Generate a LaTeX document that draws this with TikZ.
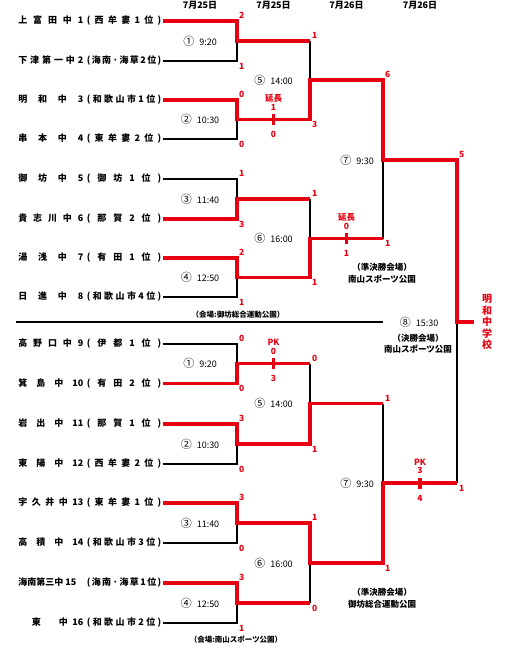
\documentclass[tikz,border=0pt]{standalone}
\usepackage{fontspec}
\setmainfont{Noto Sans CJK JP}
\usetikzlibrary{positioning,calc}
\definecolor{winred}{RGB}{230,0,18}
\def\spreadtoks#1{#1\spreadnext}
\def\spreadnext#1{\ifx\end#1\else\hfill#1\expandafter\spreadnext\fi}
\newcommand\spreadto[2]{\makebox[#1][s]{\spreadtoks#2\end}}
\newcommand\team[2]{\spreadto{65pt}{#1}\hspace{3.5pt}\spreadto{74.5pt}{#2}}
\newcommand\kickoff[2]{{\fontsize{11}{10}\selectfont#1}\hspace{5pt}#2}

\begin{document}
\begin{tikzpicture}[x=1pt,y=-1pt,
team/.style={anchor=east,inner xsep=1.5pt,inner ysep=0pt,font=\fontsize{9}{10}\selectfont\bfseries},
lose/.style={line width=1.3pt},
win/.style={line width=3.2pt,draw=winred},
score/.style={inner sep=0pt,text=winred,font=\fontsize{8.5}{9}\selectfont\bfseries},
topscore/.style={score,anchor=south west,xshift=2pt,yshift=2pt},
botscore/.style={score,anchor=north west,xshift=2pt,yshift=-2pt},
game/.style={inner sep=0pt,font=\fontsize{9}{10}\selectfont},
date/.style={inner sep=0pt,font=\fontsize{9}{10}\selectfont\bfseries},
venue/.style={align=center,inner sep=0pt,font=\fontsize{8.5}{11.5}\selectfont\bfseries},
hall/.style={inner sep=0pt,font=\fontsize{7.5}{9}\selectfont\bfseries},
champion/.style={align=center,inner sep=0pt,text=winred,font=\fontsize{10}{11.5}\selectfont\bfseries}]

\useasboundingbox (0,0) rectangle (522,650);

\node[date] (d1) at (200,5) {7月25日};
\node[date] (d2) at (273.5,5) {7月25日};
\node[date] (d3) at (346.5,5) {7月26日};
\node[date] (d4) at (420,5) {7月26日};

\node[team] (t1) at (163,21) {\team{上富田中1}{(西牟婁1位)}};
\node[team] (t2) at (163,61) {\team{下津第一中2}{(海南·海草2位)}};
\node[team] (t3) at (163,100) {\team{明和中3}{(和歌山市1位)}};
\node[team] (t4) at (163,139) {\team{串本中4}{(東牟婁2位)}};
\node[team] (t5) at (163,179) {\team{御坊中5}{(御坊1位)}};
\node[team] (t6) at (163,219) {\team{貴志川中6}{(那賀2位)}};
\node[team] (t7) at (163,258) {\team{湯浅中7}{(有田1位)}};
\node[team] (t8) at (163,297) {\team{日進中8}{(和歌山市4位)}};
\node[team] (t9) at (163,344) {\team{高野口中9}{(伊都1位)}};
\node[team] (t10) at (163,383.5) {\team{箕島中{10}}{(有田2位)}};
\node[team] (t11) at (163,424) {\team{岩出中{11}}{(那賀1位)}};
\node[team] (t12) at (163,464) {\team{東陽中{12}}{(西牟婁2位)}};
\node[team] (t13) at (163,503) {\team{宇久井中{13}}{(東牟婁1位)}};
\node[team] (t14) at (163,543) {\team{高積中{14}}{(和歌山市3位)}};
\node[team] (t15) at (163,583) {\team{{海南第三中}{15\hspace{7pt}}}{(海南·海草1位)}};
\node[team] (t16) at (163,623) {\team{{\phantom{東}}東{\phantom{東}}中{16}}{(和歌山市2位)}};

\coordinate (j1) at (237,41);
\coordinate (j2) at (237,119.5);
\coordinate (j3) at (237,199);
\coordinate (j4) at (237,277.5);
\coordinate (r1) at (310,41);
\coordinate (r2) at (310,119.5);
\coordinate (r3) at (310,199);
\coordinate (r4) at (310,277.5);
\coordinate (j5) at (310,80);
\coordinate (j6) at (310,238.5);
\coordinate (s5) at (383,80);
\coordinate (s6) at (383,238.5);
\coordinate (j7) at (383,160);
\coordinate (f1) at (457,160);

\coordinate (jb1) at (237,363.5);
\coordinate (jb2) at (237,444);
\coordinate (jb3) at (237,523);
\coordinate (jb4) at (237,603);
\coordinate (rb1) at (310,363.5);
\coordinate (rb2) at (310,444);
\coordinate (rb3) at (310,523);
\coordinate (rb4) at (310,603);
\coordinate (jb5) at (310,403.5);
\coordinate (jb6) at (310,563);
\coordinate (sb5) at (383,403.5);
\coordinate (sb6) at (383,563);
\coordinate (jb7) at (383,483);
\coordinate (f2) at (457,483);

\coordinate (jf) at (457,322);
\coordinate (champ) at (474,322);

\draw[line width=1.8pt] (16,322) -- (383,322);

\draw[lose] (t2.east) -| (j1);
\draw[lose] (t4.east) -| (j2);
\draw[lose] (t5.east) -| (j3);
\draw[lose] (t8.east) -| (j4);
\draw[lose] (r1) -- (j5);
\draw[lose] (r3) -- (j6);
\draw[lose] (s6) -- (j7);
\draw[lose] (t9.east) -| (jb1);
\draw[lose] (t12.east) -| (jb2);
\draw[lose] (t14.east) -| (jb3);
\draw[lose] (t16.east) -| (jb4);
\draw[lose] (rb1) -- (jb5);
\draw[lose] (rb4) -- (jb6);
\draw[lose] (sb5) -- (jb7);
\draw[lose] (f2) -- (jf);

\draw[win] (t1.east) -| (j1) -- (r1);
\draw[win] (t3.east) -| (j2) -- (r2) -- (j5) -- (s5) -- (j7) -- (f1) -- (jf) -- (champ);
\draw[win] (t6.east) -| (j3) -- (r3);
\draw[win] (t7.east) -| (j4) -- (r4) -- (j6) -- (s6);
\draw[win] (t10.east) -| (jb1) -- (rb1);
\draw[win] (t11.east) -| (jb2) -- (rb2) -- (jb5) -- (sb5);
\draw[win] (t13.east) -| (jb3) -- (rb3) -- (jb6) -- (sb6) -- (jb7) -- (f2);
\draw[win] (t15.east) -| (jb4) -- (rb4);

\node[topscore] (a1) at (t1.east -| j1) {2};
\node[botscore] (a2) at (t2.east -| j1) {1};
\node[topscore] (a3) at (t3.east -| j2) {0};
\node[botscore] (a4) at (t4.east -| j2) {0};
\node[topscore] (a5) at (t5.east -| j3) {1};
\node[botscore] (a6) at (t6.east -| j3) {3};
\node[topscore] (a7) at (t7.east -| j4) {2};
\node[botscore] (a8) at (t8.east -| j4) {1};
\node[topscore] (a9) at (t9.east -| jb1) {0};
\node[botscore] (a10) at (t10.east -| jb1) {0};
\node[topscore] (a11) at (t11.east -| jb2) {3};
\node[botscore] (a12) at (t12.east -| jb2) {0};
\node[topscore] (a13) at (t13.east -| jb3) {3};
\node[botscore] (a14) at (t14.east -| jb3) {0};
\node[topscore] (a15) at (t15.east -| jb4) {3};
\node[botscore] (a16) at (t16.east -| jb4) {1};

\node[topscore] (b1) at (r1) {1};
\node[botscore] (b2) at (r2) {3};
\node[topscore] (b3) at (r3) {1};
\node[botscore] (b4) at (r4) {1};
\node[topscore] (b5) at (rb1) {0};
\node[botscore] (b6) at (rb2) {1};
\node[topscore] (b7) at (rb3) {1};
\node[botscore] (b8) at (rb4) {0};

\node[topscore] (c1) at (s5) {6};
\node[botscore] (c2) at (s6) {1};
\node[topscore] (c3) at (sb5) {1};
\node[botscore] (c4) at (sb6) {1};
\node[topscore] (e1) at (f1) {5};
\node[botscore] (e2) at (f2) {1};

\coordinate (k5) at ($(j2)!.5!(r2)$);
\coordinate (k6) at ($(j6)!.5!(s6)$);
\coordinate (kb1) at ($(jb1)!.5!(rb1)$);
\coordinate (kb7) at ($(jb7)!.5!(f2)$);
\draw[win] ([yshift=5.5pt]k5) -- ([yshift=-5.5pt]k5);
\draw[win] ([yshift=5.5pt]k6) -- ([yshift=-5.5pt]k6);
\draw[win] ([yshift=5.5pt]kb1) -- ([yshift=-5.5pt]kb1);
\draw[win] ([yshift=5.5pt]kb7) -- ([yshift=-5.5pt]kb7);
\node[score,above=9pt of k5] (k5a) {1};
\node[score,above=1.5pt of k5a] (k5t) {延長};
\node[score,below=12pt of k5] (k5b) {0};
\node[score,above=9pt of k6] (k6a) {0};
\node[score,above=1.5pt of k6a] (k6t) {延長};
\node[score,below=12pt of k6] (k6b) {1};
\node[score,above=9pt of kb1] (kb1a) {0};
\node[score,above=1.5pt of kb1a] (kb1t) {PK};
\node[score,below=12pt of kb1] (kb1b) {3};
\node[score,above=9pt of kb7] (kb7a) {3};
\node[score,above=1.5pt of kb7a] (kb7t) {PK};
\node[score,below=12pt of kb7] (kb7b) {4};

\node[game] (g1) at (200,41) {\kickoff{①}{9:20}};
\node[game] (g2) at (200,119.5) {\kickoff{②}{10:30}};
\node[game] (g3) at (200,199) {\kickoff{③}{11:40}};
\node[game] (g4) at (200,277.5) {\kickoff{④}{12:50}};
\node[game] (g5) at (273.5,80) {\kickoff{⑤}{14:00}};
\node[game] (g6) at (273.5,238.5) {\kickoff{⑥}{16:00}};
\node[game] (g7) at (357,160) {\kickoff{⑦}{9:30}};
\node[game] (gb1) at (200,363.5) {\kickoff{①}{9:20}};
\node[game] (gb2) at (200,444) {\kickoff{②}{10:30}};
\node[game] (gb3) at (200,523) {\kickoff{③}{11:40}};
\node[game] (gb4) at (200,603) {\kickoff{④}{12:50}};
\node[game] (gb5) at (273.5,403.5) {\kickoff{⑤}{14:00}};
\node[game] (gb6) at (273.5,563) {\kickoff{⑥}{16:00}};
\node[game] (gb7) at (357,483) {\kickoff{⑦}{9:30}};
\node[game] (g8) at (419,322) {\kickoff{⑧}{15:30}};

\node[hall] (h1) at (238,315) {（会場:御坊総合運動公園）};
\node[hall] (h2) at (236,640) {（会場:南山スポーツ公園）};
\node[venue] (v1) at (382,273.5) {（準決勝会場）\\南山スポーツ公園};
\node[venue] (v2) at (382,598.5) {（準決勝会場）\\御坊総合運動公園};
\node[venue] (v3) at (418,344) {（決勝会場）\\南山スポーツ公園};

\node[champion,right=8pt of champ] (w) {明\\和\\中\\学\\校};

\end{tikzpicture}
\end{document}
